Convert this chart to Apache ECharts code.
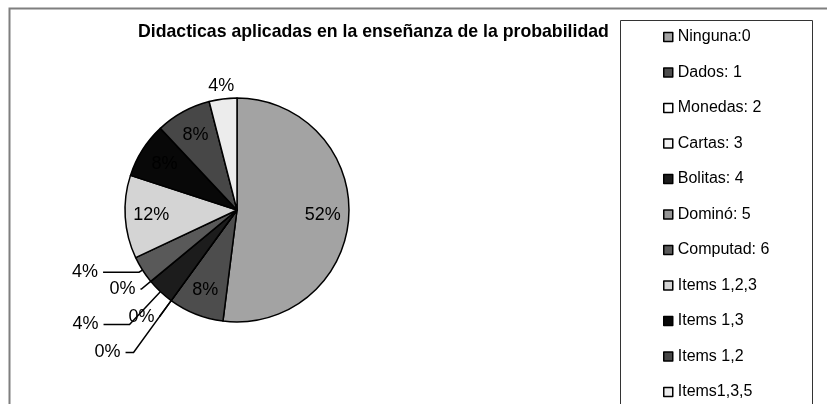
<!DOCTYPE html>
<html>
<head>
<meta charset="utf-8">
<script src="https://cdn.jsdelivr.net/npm/echarts@6/dist/echarts.min.js"></script>
<style>
html,body{margin:0;padding:0;background:#fff;}
#main{width:827px;height:404px;}
</style>
</head>
<body>
<div id="main"></div>
<script>
// categorias de la leyenda y porcentajes
var categorias = ['Ninguna:0','Dados: 1','Monedas: 2','Cartas: 3','Bolitas: 4','Dominó: 5','Computad: 6','Items 1,2,3','Items 1,3','Items 1,2','Items1,3,5'];
var valores = [52, 8, 0, 0, 4, 0, 4, 12, 8, 8, 4];
var colores = ['#a3a3a3','#4d4d4d','#ffffff','#f2f2f2','#1c1c1c','#969696','#595959','#d4d4d4','#080808','#474747','#ececec'];
// largo de las lineas guia [radial, horizontal] para las etiquetas de afuera
var guias = {2: [20, 0], 3: [64, 8], 4: [45, 26], 5: [12, 1], 6: [4, 36]};

var myChart = echarts.init(document.getElementById('main'), null, {renderer:'canvas'});

var fuente = 'Liberation Sans, Arial';
var datos = [], datosDentro = [], datosArriba = [];
for (var i = 0; i < categorias.length; i++) {
	var g = guias[i];
	datos.push({
		name: categorias[i],
		value: valores[i],
		itemStyle: {color: colores[i]},
		label: {show: !!g},
		labelLine: g ? {show: true, length: g[0], length2: g[1]} : {show: false}
	});
	// etiquetas dentro de la torta (las grandes)
	datosDentro.push({name: categorias[i], value: valores[i], label: {show: valores[i] >= 8}});
	// etiqueta sobre el borde (la de arriba, sin linea)
	datosArriba.push({name: categorias[i], value: valores[i], label: {show: valores[i] > 0 && valores[i] < 8 && !g}});
}

var etiqueta = {
	formatter: '{d}%',
	fontFamily: fuente,
	fontSize: 18,
	color: '#000'
};
var transparente = {color: 'rgba(0,0,0,0)', borderWidth: 0};

var option = {
	animation: false,
	title: {
		text: 'Didacticas aplicadas en la enseñanza de la probabilidad',
		left: 133,
		top: 18,
		textStyle: {fontFamily: fuente, fontSize: 17.7, fontWeight: 'bold', color: '#000'}
	},
	legend: {
		orient: 'vertical',
		left: 663,
		top: 29,
		height: 420,
		padding: 0,
		itemWidth: 9,
		itemHeight: 9,
		itemGap: 19.5,
		icon: 'rect',
		selectedMode: false,
		data: categorias,
		itemStyle: {borderColor: '#000', borderWidth: 1.5},
		textStyle: {fontFamily: fuente, fontSize: 16, lineHeight: 16, color: '#000'}
	},
	graphic: [
		{type: 'rect', shape: {x: 9.5, y: 8.5, width: 840, height: 420}, style: {fill: 'none', stroke: '#7f7f7f', lineWidth: 2}, silent: true},
		{type: 'rect', shape: {x: 620.5, y: 20.5, width: 192, height: 420}, style: {fill: 'none', stroke: '#333', lineWidth: 1}, silent: true}
	],
	series: [
		{
			name: 'principal',
			type: 'pie',
			center: [237, 210],
			radius: 112,
			startAngle: 90,
			clockwise: true,
			avoidLabelOverlap: false,
			stillShowZeroSum: true,
			itemStyle: {borderColor: '#000', borderWidth: 1.5},
			label: Object.assign({position: 'outside'}, etiqueta),
			labelLine: {lineStyle: {color: '#000', width: 1.5}},
			emphasis: {disabled: true},
			data: datos
		},
		{
			name: 'dentro',
			type: 'pie',
			center: [237, 210],
			radius: [0, 166],
			startAngle: 90,
			silent: true,
			itemStyle: transparente,
			label: Object.assign({position: 'inside'}, etiqueta),
			labelLine: {show: false},
			emphasis: {disabled: true},
			data: datosDentro
		},
		{
			name: 'arriba',
			type: 'pie',
			center: [237, 210],
			radius: [117, 127],
			startAngle: 90,
			silent: true,
			itemStyle: transparente,
			label: Object.assign({position: 'inside'}, etiqueta),
			labelLine: {show: false},
			emphasis: {disabled: true},
			data: datosArriba
		}
	]
};
myChart.setOption(option);
</script>
</body>
</html>
